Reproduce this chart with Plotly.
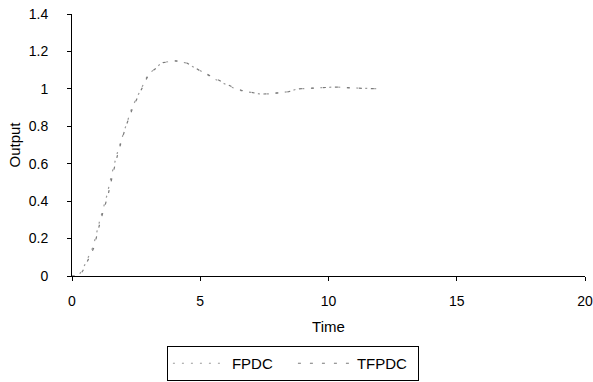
import plotly.graph_objects as go

# Data
time_fpdc = [0.0, 0.25, 0.43, 0.82, 1.09, 1.36, 1.56, 1.75, 2.07, 2.34, 2.96, 3.5, 4.0, 4.4, 4.9, 5.6, 6.2, 6.6, 7.3, 7.7, 8.4, 8.8, 9.55, 10.25, 11.0, 12.0]
out_fpdc = [0.0, 0.0, 0.04, 0.155, 0.30, 0.43, 0.55, 0.65, 0.79, 0.90, 1.075, 1.14, 1.15, 1.14, 1.105, 1.05, 1.01, 0.99, 0.973, 0.973, 0.984, 1.0, 1.005, 1.01, 1.005, 1.0]
time_tfpdc = [0.0, 0.3, 0.45, 0.85, 1.1, 1.4, 1.6, 1.8, 2.1, 2.4, 3.0, 3.55, 4.05, 4.45, 4.95, 5.65, 6.25, 6.65, 7.35, 7.75, 8.45, 8.85, 9.6, 10.3, 11.05, 12.0]
out_tfpdc = [0.0, 0.0, 0.035, 0.15, 0.29, 0.43, 0.55, 0.66, 0.80, 0.91, 1.08, 1.14, 1.15, 1.14, 1.10, 1.05, 1.01, 0.99, 0.972, 0.974, 0.985, 1.0, 1.006, 1.01, 1.004, 1.0]

x_ticks = [0, 5, 10, 15, 20]
y_ticks = [0, 0.2, 0.4, 0.6, 0.8, 1, 1.2, 1.4]
y_tick_text = ["0", "0.2", "0.4", "0.6", "0.8", "1", "1.2", "1.4"]

fig = go.Figure()
fig.add_trace(go.Scatter(x=time_fpdc, y=out_fpdc, mode="lines", name="FPDC",
                         line=dict(color="#9a9a9a", width=1.2, dash="2px,7px")))
fig.add_trace(go.Scatter(x=time_tfpdc, y=out_tfpdc, mode="lines", name="TFPDC",
                         line=dict(color="#7a7a7a", width=1.2, dash="3px,9px")))

axis_font = dict(family="Liberation Sans, Arial, sans-serif", size=14, color="black")
fig.update_layout(
    width=593, height=382,
    margin=dict(l=72, r=8, t=14, b=106, autoexpand=False),
    paper_bgcolor="white", plot_bgcolor="white",
    font=axis_font,
    xaxis=dict(range=[0, 20], tickvals=x_ticks, showgrid=False, zeroline=False,
               showline=True, linecolor="black", linewidth=1,
               ticks="outside", ticklen=4, tickcolor="black",
               ticklabelstandoff=8, automargin=False, ticklabeloverflow="allow",
               title=dict(text="Time", font=dict(size=15), standoff=13),
               tickfont=dict(size=14)),
    yaxis=dict(range=[0, 1.4], tickvals=y_ticks, ticktext=y_tick_text,
               showgrid=False, zeroline=False,
               showline=True, linecolor="black", linewidth=1,
               ticks="outside", ticklen=4, tickcolor="black",
               ticklabelstandoff=16, automargin=False, ticklabeloverflow="allow",
               title=dict(text="Output", font=dict(size=15), standoff=4),
               tickfont=dict(size=14)),
    showlegend=True,
    legend=dict(orientation="h", x=0.185, xanchor="left", y=-0.4008, yanchor="bottom",
                bordercolor="black", borderwidth=1, bgcolor="white",
                font=dict(size=15, color="black"),
                entrywidth=56, entrywidthmode="pixels", itemwidth=54),
)

fig.write_html("out.html", config={"displayModeBar": False},
               post_script="document.body.style.margin='0';")
